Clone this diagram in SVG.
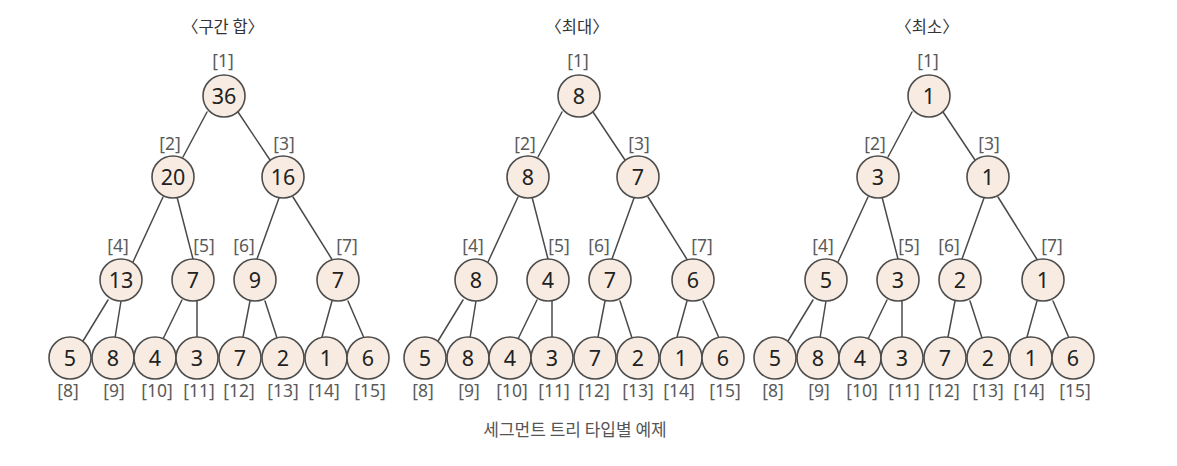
<svg xmlns="http://www.w3.org/2000/svg" width="1177" height="466" viewBox="0 0 1177 466">
<style>
.bg{fill:#ffffff}
.edge{stroke:#4a4a4a;stroke-width:1.5;fill:none;stroke-linecap:round}
.nd{fill:#f8ece2;stroke:#4d4d4d;stroke-width:1.6}
.val{font-family:"Noto Sans","Liberation Sans",sans-serif;font-size:21.5px;fill:#222;text-anchor:middle}
.idx{font-family:"Noto Sans","Liberation Sans",sans-serif;font-size:17.5px;fill:#5a5a5a;text-anchor:middle}
.ttl{font-family:"Noto Sans CJK KR",sans-serif;font-size:16.5px;fill:#333;text-anchor:middle}
.cap{font-family:"Noto Sans CJK KR",sans-serif;font-size:17px;fill:#555;text-anchor:middle}
</style>
<defs>
<g id="edges">
<line x1="207" y1="112" x2="183" y2="157"/>
<line x1="238" y1="112" x2="270" y2="160"/>
<line x1="163" y1="197" x2="133" y2="262"/>
<line x1="177" y1="197" x2="193" y2="259"/>
<line x1="279" y1="198" x2="257" y2="259"/>
<line x1="293" y1="197" x2="333" y2="261"/>
<line x1="108" y1="300" x2="83" y2="341"/>
<line x1="121" y1="301" x2="115" y2="338"/>
<line x1="182" y1="300" x2="163" y2="339"/>
<line x1="197" y1="301" x2="197" y2="337"/>
<line x1="250" y1="301" x2="243" y2="337"/>
<line x1="265" y1="301" x2="277" y2="338"/>
<line x1="332" y1="301" x2="322" y2="337"/>
<line x1="348" y1="301" x2="364" y2="338"/>
</g>
</defs>
<rect class="bg" x="0" y="0" width="1177" height="466"/>
<g id="connectors" class="edge">
<use href="#edges"/>
<use href="#edges" transform="translate(355,0)"/>
<use href="#edges" transform="translate(705,0)"/>
</g>
<g id="tree-sum">
<text id="title-sum" class="ttl" x="223" y="33">〈구간 합〉</text>
<g id="sum-1"><circle class="nd" cx="224" cy="96" r="21"/><text class="val" x="224" y="103.5">36</text><text class="idx" x="223" y="66.5">[1]</text></g>
<g id="sum-2"><circle class="nd" cx="173" cy="177" r="21"/><text class="val" x="173" y="184.5">20</text><text class="idx" x="170" y="149.5">[2]</text></g>
<g id="sum-3"><circle class="nd" cx="283" cy="177" r="21"/><text class="val" x="283" y="184.5">16</text><text class="idx" x="284" y="149.5">[3]</text></g>
<g id="sum-4"><circle class="nd" cx="121" cy="280" r="21"/><text class="val" x="121" y="287.5">13</text><text class="idx" x="118" y="251.5">[4]</text></g>
<g id="sum-5"><circle class="nd" cx="193" cy="280" r="21"/><text class="val" x="193" y="287.5">7</text><text class="idx" x="204" y="251.5">[5]</text></g>
<g id="sum-6"><circle class="nd" cx="255" cy="280" r="21"/><text class="val" x="255" y="287.5">9</text><text class="idx" x="244" y="251.5">[6]</text></g>
<g id="sum-7"><circle class="nd" cx="338" cy="280" r="21"/><text class="val" x="338" y="287.5">7</text><text class="idx" x="347" y="251.5">[7]</text></g>
<g id="sum-8"><circle class="nd" cx="70" cy="358" r="21"/><text class="val" x="70" y="365.5">5</text><text class="idx" x="68" y="396.5">[8]</text></g>
<g id="sum-9"><circle class="nd" cx="113" cy="358" r="21"/><text class="val" x="113" y="365.5">8</text><text class="idx" x="114" y="396.5">[9]</text></g>
<g id="sum-10"><circle class="nd" cx="155" cy="358" r="21"/><text class="val" x="155" y="365.5">4</text><text class="idx" x="157" y="396.5">[10]</text></g>
<g id="sum-11"><circle class="nd" cx="197" cy="358" r="21"/><text class="val" x="197" y="365.5">3</text><text class="idx" x="199" y="396.5">[11]</text></g>
<g id="sum-12"><circle class="nd" cx="240" cy="358" r="21"/><text class="val" x="240" y="365.5">7</text><text class="idx" x="239" y="396.5">[12]</text></g>
<g id="sum-13"><circle class="nd" cx="283" cy="358" r="21"/><text class="val" x="283" y="365.5">2</text><text class="idx" x="283" y="396.5">[13]</text></g>
<g id="sum-14"><circle class="nd" cx="326" cy="358" r="21"/><text class="val" x="326" y="365.5">1</text><text class="idx" x="324" y="396.5">[14]</text></g>
<g id="sum-15"><circle class="nd" cx="368" cy="358" r="21"/><text class="val" x="368" y="365.5">6</text><text class="idx" x="370" y="396.5">[15]</text></g>
</g>
<g id="tree-max" transform="translate(355,0)">
<text id="title-max" class="ttl" x="222" y="33">〈최대〉</text>
<g id="max-1"><circle class="nd" cx="224" cy="96" r="21"/><text class="val" x="224" y="103.5">8</text><text class="idx" x="223" y="66.5">[1]</text></g>
<g id="max-2"><circle class="nd" cx="173" cy="177" r="21"/><text class="val" x="173" y="184.5">8</text><text class="idx" x="170" y="149.5">[2]</text></g>
<g id="max-3"><circle class="nd" cx="283" cy="177" r="21"/><text class="val" x="283" y="184.5">7</text><text class="idx" x="284" y="149.5">[3]</text></g>
<g id="max-4"><circle class="nd" cx="121" cy="280" r="21"/><text class="val" x="121" y="287.5">8</text><text class="idx" x="118" y="251.5">[4]</text></g>
<g id="max-5"><circle class="nd" cx="193" cy="280" r="21"/><text class="val" x="193" y="287.5">4</text><text class="idx" x="204" y="251.5">[5]</text></g>
<g id="max-6"><circle class="nd" cx="255" cy="280" r="21"/><text class="val" x="255" y="287.5">7</text><text class="idx" x="244" y="251.5">[6]</text></g>
<g id="max-7"><circle class="nd" cx="338" cy="280" r="21"/><text class="val" x="338" y="287.5">6</text><text class="idx" x="347" y="251.5">[7]</text></g>
<g id="max-8"><circle class="nd" cx="70" cy="358" r="21"/><text class="val" x="70" y="365.5">5</text><text class="idx" x="68" y="396.5">[8]</text></g>
<g id="max-9"><circle class="nd" cx="113" cy="358" r="21"/><text class="val" x="113" y="365.5">8</text><text class="idx" x="114" y="396.5">[9]</text></g>
<g id="max-10"><circle class="nd" cx="155" cy="358" r="21"/><text class="val" x="155" y="365.5">4</text><text class="idx" x="157" y="396.5">[10]</text></g>
<g id="max-11"><circle class="nd" cx="197" cy="358" r="21"/><text class="val" x="197" y="365.5">3</text><text class="idx" x="199" y="396.5">[11]</text></g>
<g id="max-12"><circle class="nd" cx="240" cy="358" r="21"/><text class="val" x="240" y="365.5">7</text><text class="idx" x="239" y="396.5">[12]</text></g>
<g id="max-13"><circle class="nd" cx="283" cy="358" r="21"/><text class="val" x="283" y="365.5">2</text><text class="idx" x="283" y="396.5">[13]</text></g>
<g id="max-14"><circle class="nd" cx="326" cy="358" r="21"/><text class="val" x="326" y="365.5">1</text><text class="idx" x="324" y="396.5">[14]</text></g>
<g id="max-15"><circle class="nd" cx="368" cy="358" r="21"/><text class="val" x="368" y="365.5">6</text><text class="idx" x="370" y="396.5">[15]</text></g>
</g>
<g id="tree-min" transform="translate(705,0)">
<text id="title-min" class="ttl" x="222" y="33">〈최소〉</text>
<g id="min-1"><circle class="nd" cx="224" cy="96" r="21"/><text class="val" x="224" y="103.5">1</text><text class="idx" x="223" y="66.5">[1]</text></g>
<g id="min-2"><circle class="nd" cx="173" cy="177" r="21"/><text class="val" x="173" y="184.5">3</text><text class="idx" x="170" y="149.5">[2]</text></g>
<g id="min-3"><circle class="nd" cx="283" cy="177" r="21"/><text class="val" x="283" y="184.5">1</text><text class="idx" x="284" y="149.5">[3]</text></g>
<g id="min-4"><circle class="nd" cx="121" cy="280" r="21"/><text class="val" x="121" y="287.5">5</text><text class="idx" x="118" y="251.5">[4]</text></g>
<g id="min-5"><circle class="nd" cx="193" cy="280" r="21"/><text class="val" x="193" y="287.5">3</text><text class="idx" x="204" y="251.5">[5]</text></g>
<g id="min-6"><circle class="nd" cx="255" cy="280" r="21"/><text class="val" x="255" y="287.5">2</text><text class="idx" x="244" y="251.5">[6]</text></g>
<g id="min-7"><circle class="nd" cx="338" cy="280" r="21"/><text class="val" x="338" y="287.5">1</text><text class="idx" x="347" y="251.5">[7]</text></g>
<g id="min-8"><circle class="nd" cx="70" cy="358" r="21"/><text class="val" x="70" y="365.5">5</text><text class="idx" x="68" y="396.5">[8]</text></g>
<g id="min-9"><circle class="nd" cx="113" cy="358" r="21"/><text class="val" x="113" y="365.5">8</text><text class="idx" x="114" y="396.5">[9]</text></g>
<g id="min-10"><circle class="nd" cx="155" cy="358" r="21"/><text class="val" x="155" y="365.5">4</text><text class="idx" x="157" y="396.5">[10]</text></g>
<g id="min-11"><circle class="nd" cx="197" cy="358" r="21"/><text class="val" x="197" y="365.5">3</text><text class="idx" x="199" y="396.5">[11]</text></g>
<g id="min-12"><circle class="nd" cx="240" cy="358" r="21"/><text class="val" x="240" y="365.5">7</text><text class="idx" x="239" y="396.5">[12]</text></g>
<g id="min-13"><circle class="nd" cx="283" cy="358" r="21"/><text class="val" x="283" y="365.5">2</text><text class="idx" x="283" y="396.5">[13]</text></g>
<g id="min-14"><circle class="nd" cx="326" cy="358" r="21"/><text class="val" x="326" y="365.5">1</text><text class="idx" x="324" y="396.5">[14]</text></g>
<g id="min-15"><circle class="nd" cx="368" cy="358" r="21"/><text class="val" x="368" y="365.5">6</text><text class="idx" x="370" y="396.5">[15]</text></g>
</g>
<text id="caption" class="cap" x="575" y="436">세그먼트 트리 타입별 예제</text>
</svg>
